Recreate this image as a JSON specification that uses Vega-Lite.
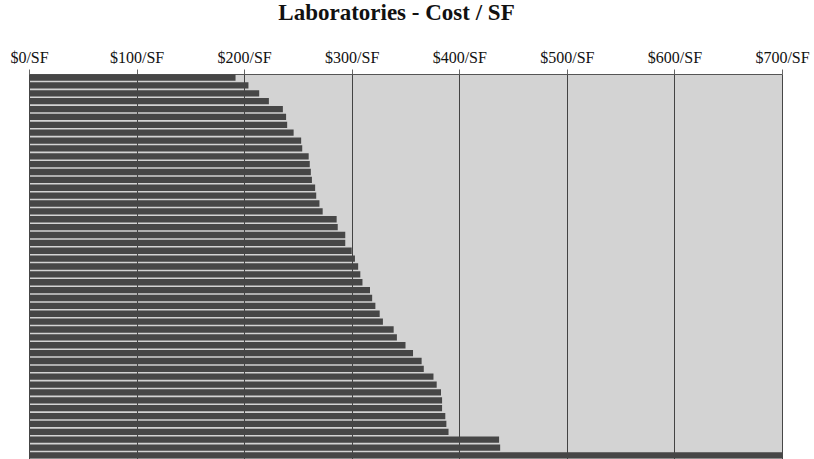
{
  "$schema": "https://vega.github.io/schema/vega-lite/v6.json",
  "width": 753,
  "height": 385,
  "autosize": {"type": "none"},
  "padding": {"left": 29, "top": 74, "right": 32, "bottom": 0},
  "background": "#ffffff",
  "title": {
    "text": "Laboratories - Cost / SF",
    "font": "Liberation Serif",
    "fontSize": 23,
    "fontWeight": "bold",
    "color": "#111111",
    "anchor": "middle",
    "dx": -9,
    "offset": 6,
    "baseline": "alphabetic"
  },
  "config": {
    "view": {"stroke": null, "fill": "#d3d3d3"}
  },
  "data": {
    "values": [
      {"project": "P01", "cost": 192},
      {"project": "P02", "cost": 204},
      {"project": "P03", "cost": 214},
      {"project": "P04", "cost": 223},
      {"project": "P05", "cost": 236},
      {"project": "P06", "cost": 239},
      {"project": "P07", "cost": 240},
      {"project": "P08", "cost": 246},
      {"project": "P09", "cost": 253},
      {"project": "P10", "cost": 254},
      {"project": "P11", "cost": 260},
      {"project": "P12", "cost": 261},
      {"project": "P13", "cost": 262},
      {"project": "P14", "cost": 263},
      {"project": "P15", "cost": 266},
      {"project": "P16", "cost": 267},
      {"project": "P17", "cost": 270},
      {"project": "P18", "cost": 273},
      {"project": "P19", "cost": 286},
      {"project": "P20", "cost": 287},
      {"project": "P21", "cost": 294},
      {"project": "P22", "cost": 294},
      {"project": "P23", "cost": 300},
      {"project": "P24", "cost": 303},
      {"project": "P25", "cost": 306},
      {"project": "P26", "cost": 308},
      {"project": "P27", "cost": 310},
      {"project": "P28", "cost": 317},
      {"project": "P29", "cost": 319},
      {"project": "P30", "cost": 322},
      {"project": "P31", "cost": 326},
      {"project": "P32", "cost": 329},
      {"project": "P33", "cost": 339},
      {"project": "P34", "cost": 342},
      {"project": "P35", "cost": 350},
      {"project": "P36", "cost": 357},
      {"project": "P37", "cost": 365},
      {"project": "P38", "cost": 367},
      {"project": "P39", "cost": 376},
      {"project": "P40", "cost": 379},
      {"project": "P41", "cost": 383},
      {"project": "P42", "cost": 384},
      {"project": "P43", "cost": 384},
      {"project": "P44", "cost": 387},
      {"project": "P45", "cost": 388},
      {"project": "P46", "cost": 390},
      {"project": "P47", "cost": 437},
      {"project": "P48", "cost": 438},
      {"project": "P49", "cost": 700}
    ]
  },
  "mark": {"type": "bar", "color": "#464646", "clip": true},
  "encoding": {
    "y": {
      "field": "project",
      "type": "nominal",
      "sort": null,
      "scale": {"paddingInner": 0.2, "paddingOuter": 0.05},
      "axis": null
    },
    "x": {
      "field": "cost",
      "type": "quantitative",
      "scale": {"domain": [0, 700], "nice": false},
      "axis": {
        "orient": "top",
        "title": null,
        "values": [0, 100, 200, 300, 400, 500, 600, 700],
        "labelExpr": "'$' + datum.value + '/SF'",
        "labelFont": "Liberation Serif",
        "labelFontSize": 16,
        "labelColor": "#111111",
        "labelBaseline": "alphabetic",
        "labelPadding": 7,
        "labelFlush": false,
        "tickSize": 5,
        "tickColor": "#666666",
        "domainColor": "#555555",
        "domainWidth": 1,
        "grid": true,
        "gridColor": "#333333",
        "gridWidth": 1,
        "gridOpacity": 0.9
      }
    }
  }
}
